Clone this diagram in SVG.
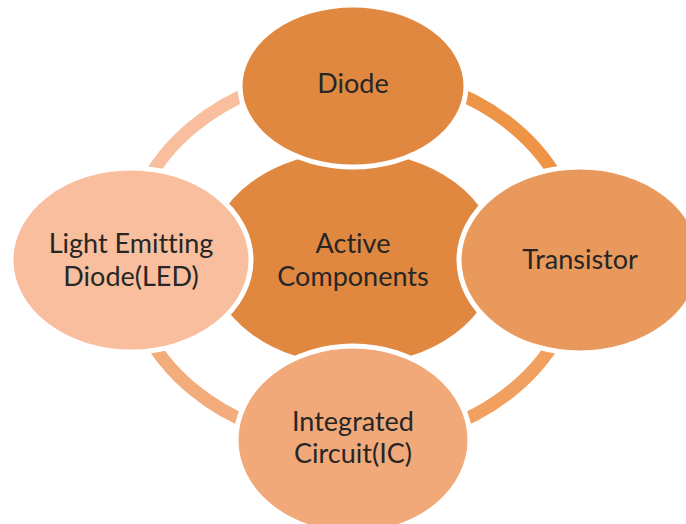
<svg xmlns="http://www.w3.org/2000/svg" width="686" height="524" viewBox="0 0 686 524">
<style>
.node{stroke:#ffffff;stroke-width:5}
.ring{fill:none;stroke-width:13}
.lbl{font-family:Lato,"Open Sans","Liberation Sans",sans-serif;font-size:27px;fill:#262626;text-anchor:middle;font-variant-ligatures:none;font-feature-settings:"liga" 0}
</style>
<rect width="686" height="524" fill="#ffffff"/>
<g id="center">
<ellipse cx="353" cy="258" rx="144" ry="107" fill="#E08840"/>
<text class="lbl" x="353" y="253">Active</text>
<text class="lbl" x="353" y="286">Components</text>
</g>
<g id="connectors">
<path class="ring" stroke="#F8BE9D" d="M127,258 A226,186 0 0 1 353,72"/>
<path class="ring" stroke="#EE9447" d="M353,72 A226,186 0 0 1 579,258"/>
<path class="ring" stroke="#F2A060" d="M579,258 A226,186 0 0 1 353,444"/>
<path class="ring" stroke="#F3AD7D" d="M353,444 A226,186 0 0 1 127,258"/>
</g>
<g id="diode">
<ellipse class="node" cx="353" cy="86" rx="113" ry="81" fill="#E08840"/>
<text class="lbl" x="353" y="93">Diode</text>
</g>
<g id="transistor">
<ellipse class="node" cx="580" cy="260" rx="121" ry="93" fill="#EA995C"/>
<text class="lbl" x="580" y="269">Transistor</text>
</g>
<g id="ic">
<ellipse class="node" cx="353" cy="440" rx="117" ry="94" fill="#F2A97A"/>
<text class="lbl" x="353" y="431">Integrated</text>
<text class="lbl" x="353" y="463">Circuit(IC)</text>
</g>
<g id="led">
<ellipse class="node" cx="131" cy="260" rx="120" ry="92" fill="#F8BE9D"/>
<text class="lbl" x="131" y="253">Light Emitting</text>
<text class="lbl" x="131" y="286">Diode(LED)</text>
</g>
</svg>
